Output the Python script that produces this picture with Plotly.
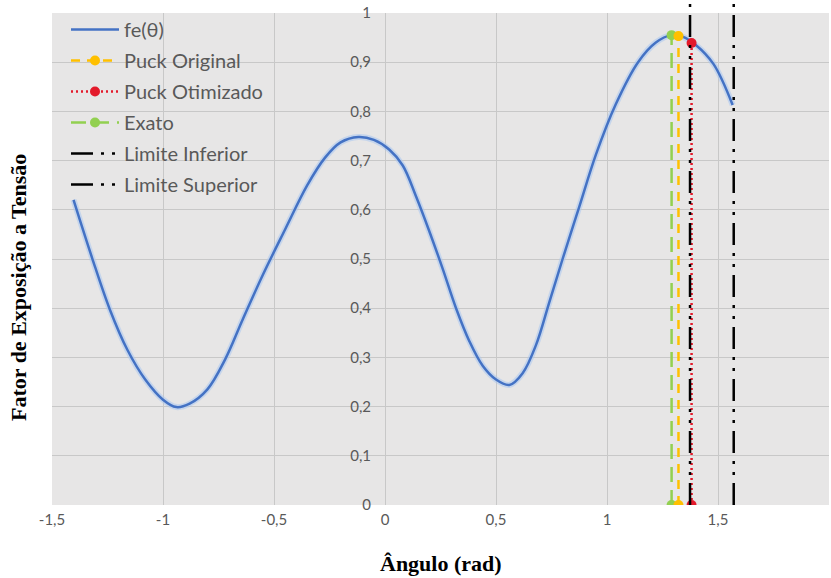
import plotly.graph_objects as go

# ---- data ----
theta = [-1.403, -1.32, -1.24, -1.16, -1.08, -1.00, -0.94, -0.88, -0.80, -0.72, -0.64, -0.55,
         -0.45, -0.35, -0.27, -0.20, -0.12, -0.05, 0.02, 0.08, 0.14, 0.20, 0.26, 0.32, 0.38,
         0.44, 0.50, 0.56, 0.62, 0.68, 0.74, 0.80, 0.875, 0.95, 1.04, 1.14, 1.22, 1.29,
         1.34, 1.40, 1.48, 1.566]
fe = [0.620, 0.503, 0.398, 0.315, 0.255, 0.214, 0.199, 0.206, 0.235, 0.296, 0.378, 0.468,
      0.560, 0.650, 0.706, 0.737, 0.748, 0.742, 0.722, 0.690, 0.627, 0.556, 0.480, 0.400, 0.333,
      0.283, 0.255, 0.244, 0.268, 0.325, 0.412, 0.500, 0.606, 0.712, 0.815, 0.900, 0.940, 0.955,
      0.952, 0.935, 0.896, 0.813]

puck_original = (1.322, 0.953)
puck_otimizado = (1.381, 0.939)
exato = (1.291, 0.955)
limite_inferior = 1.374
limite_superior = 1.5708

x_ticks = [-1.5, -1, -0.5, 0, 0.5, 1, 1.5, 2]
x_ticktext = ["-1,5", "-1", "-0,5", "0", "0,5", "1", "1,5", "2"]
y_ticks = [0, 0.1, 0.2, 0.3, 0.4, 0.5, 0.6, 0.7, 0.8, 0.9, 1]
y_ticktext = ["0", "0,1", "0,2", "0,3", "0,4", "0,5", "0,6", "0,7", "0,8", "0,9", "1"]

# ---- figure ----
W, H = 831, 578
ML, MR, MT, MB = 52, 2, 13, 73
plot_w = W - ML - MR
plot_h = H - MT - MB

fig = go.Figure()

# glow under curve
fig.add_trace(go.Scatter(x=theta, y=fe, mode="lines", line=dict(color="rgba(170,198,240,0.55)", width=6, shape="spline"),
                         showlegend=False, hoverinfo="skip"))
fig.add_trace(go.Scatter(x=theta, y=fe, mode="lines", name="fe(θ)", legendgroup="a", legendrank=1,
                         line=dict(color="#4472C4", width=2.5, shape="spline")))

fig.add_trace(go.Scatter(x=[exato[0], exato[0]], y=[0, exato[1]], mode="lines+markers", name="Exato",
                         legendgroup="d", legendrank=4,
                         line=dict(color="#92D050", width=2.5, dash="15px,8px"),
                         marker=dict(color="#92D050", size=10)))
fig.add_trace(go.Scatter(x=[puck_original[0], puck_original[0]], y=[0, puck_original[1]], mode="lines+markers",
                         name="Puck Original", legendgroup="b", legendrank=2,
                         line=dict(color="#FFC000", width=2.5, dash="9px,7px"),
                         marker=dict(color="#FFC000", size=10)))
fig.add_trace(go.Scatter(x=[puck_otimizado[0], puck_otimizado[0]], y=[0, puck_otimizado[1]], mode="lines+markers",
                         name="Puck Otimizado", legendgroup="c", legendrank=3,
                         line=dict(color="#E31A2B", width=2.5, dash="2px,3px"),
                         marker=dict(color="#E31A2B", size=10)))

dashpat = "22px,8px,3px,8px,3px,8px"
top_paper = (plot_h + MT) / plot_h
fig.add_shape(type="line", xref="x", yref="paper", x0=limite_inferior, x1=limite_inferior, y0=0, y1=top_paper,
              line=dict(color="black", width=2.5, dash=dashpat), layer="above",
              showlegend=True, name="Limite Inferior", legendgroup="e", legendrank=5)
fig.add_shape(type="line", xref="x", yref="paper", x0=limite_superior, x1=limite_superior, y0=0, y1=top_paper,
              line=dict(color="black", width=2.5, dash=dashpat), layer="above",
              showlegend=True, name="Limite Superior", legendgroup="f", legendrank=6)

tickfont = dict(family="Lato, sans-serif", size=15, color="#595959")
fig.update_layout(
    width=W, height=H,
    margin=dict(l=ML, r=MR, t=MT, b=MB),
    paper_bgcolor="white", plot_bgcolor="#E7E6E6",
    separators=",.",
    showlegend=True,
    legend=dict(x=(66 - ML) / plot_w, y=1.0 + 3 / plot_h, xanchor="left", yanchor="top", bgcolor="rgba(0,0,0,0)",
                font=dict(family="Lato, sans-serif", size=20, color="#595959"),
                tracegroupgap=2, traceorder="grouped", itemwidth=48),
    xaxis=dict(range=[-1.5, 2], tickvals=x_ticks, ticktext=x_ticktext, showgrid=True, gridcolor="#C8C8C8",
               gridwidth=1, zeroline=False, showline=False, tickfont=tickfont, ticks="", automargin=False,
               ticklabelstandoff=4),
    yaxis=dict(range=[0, 1], tickvals=y_ticks, ticktext=y_ticktext, showgrid=True, gridcolor="#C8C8C8",
               gridwidth=1, zeroline=False, showline=False, tickfont=tickfont, ticks="", automargin=False,
               anchor="free", position=(0 - (-1.5)) / 3.5, ticklabelstandoff=14),
    annotations=[
        dict(text="<b>Fator de Exposição a Tensão</b>", xref="paper", yref="paper",
             x=(18 - ML) / plot_w, y=(plot_h + MT - 288) / plot_h, xanchor="center", yanchor="middle",
             textangle=-90, showarrow=False, font=dict(family="Liberation Serif", size=22, color="black")),
        dict(text="<b>Ângulo (rad)</b>", xref="paper", yref="paper",
             x=0.5, y=(plot_h + MT - 563) / plot_h, xanchor="center", yanchor="middle",
             showarrow=False, font=dict(family="Liberation Serif", size=22, color="black")),
    ],
)

fig.write_html("out.html")
